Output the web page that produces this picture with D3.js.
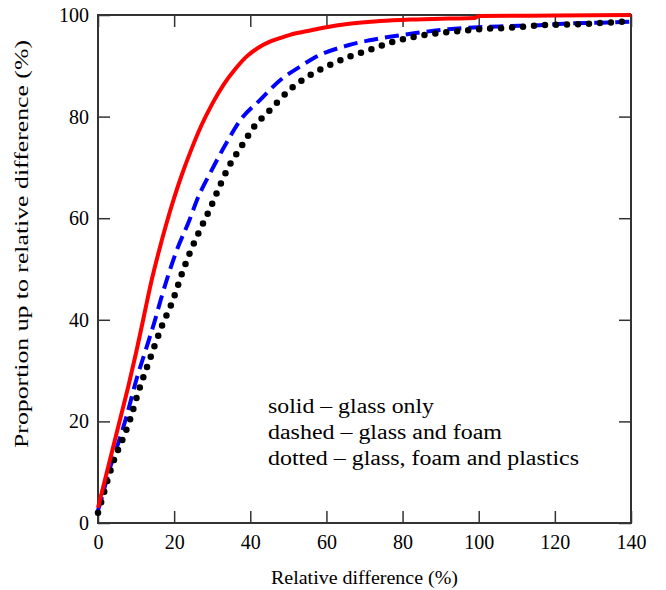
<!DOCTYPE html>
<html>
<head>
<meta charset="utf-8">
<script src="https://cdnjs.cloudflare.com/ajax/libs/d3/7.8.5/d3.min.js"></script>
<style>
  body { margin: 0; background: #fff; }
  text { font-family: "Liberation Serif", "Times New Roman", serif; fill: #000; }
</style>
</head>
<body>
<div id="chart"></div>
<script>
var xTicks = [0, 20, 40, 60, 80, 100, 120, 140];
var yTicks = [0, 20, 40, 60, 80, 100];

var glassX = [0, 2, 4, 6, 8, 10, 12, 14, 16, 18, 20, 22, 24.5, 27, 30, 33, 36, 39, 42, 45, 48, 52, 56, 60, 65, 74, 82, 92, 99, 100, 120, 140];
var glassY = [3, 9, 15, 21, 27, 33.5, 40.5, 47.5, 53.5, 59, 64, 68.5, 73.5, 78, 82.5, 86.3, 89.3, 91.8, 93.5, 94.7, 95.5, 96.4, 97, 97.6, 98.2, 98.8, 99.1, 99.3, 99.4, 99.8, 99.9, 100];

var foamX = [0, 1, 3, 5, 7.5, 10, 12.5, 15, 16.5, 20.7, 24, 26, 29.9, 33.5, 37.4, 42.6, 47.9, 53, 56.6, 65.5, 74.2, 83, 92, 100, 107.6, 116, 125, 134, 140];
var foamY = [2.5, 5, 10.5, 15, 21, 28, 34, 40, 44, 53.7, 59.6, 63.6, 69.5, 74.5, 79.3, 83.3, 87.2, 89.8, 91.5, 94, 95.4, 96.4, 97.2, 97.6, 97.8, 98, 98.4, 98.5, 98.7];

var plasticX = [0, 1, 2.7, 4.5, 6.2, 8.4, 10.6, 13.5, 16.8, 19.7, 22, 24.4, 26.8, 29.5, 31.5, 34.3, 37.4, 41, 44.8, 51, 56, 61, 66, 71.6, 77, 83, 90, 94.5, 100, 108.4, 117, 126, 138, 140];
var plasticY = [2, 4.5, 8.9, 13, 16, 20.3, 25.8, 32, 38.8, 43.9, 49, 53.7, 57.7, 62, 65.5, 70.1, 73.8, 78, 81, 85.7, 88.3, 90.2, 91.8, 93.2, 94.6, 95.7, 96.5, 96.8, 97.2, 97.5, 98, 98.2, 98.7, 98.8];

var legendLines = ["solid \u2013 glass only", "dashed \u2013 glass and foam", "dotted \u2013 glass, foam and plastics"];
var legendWidths = [166, 234, 311];

var svgWidth = 666;
var svgHeight = 590;
var margin = { top: 15, right: 35, bottom: 67, left: 98 };
var width = svgWidth - margin.left - margin.right;
var height = svgHeight - margin.top - margin.bottom;

var svg = d3.select("#chart").append("svg")
            .attr("width", svgWidth)
            .attr("height", svgHeight);

var chartGroup = svg.append("g")
                    .attr("transform", `translate(${margin.left}, ${margin.top})`);

var x = d3.scaleLinear().domain([0, 140]).range([0, width]);
var y = d3.scaleLinear().domain([0, 100]).range([height, 0]);

// axes, ticks pointing inward
function styleAxis(g) {
    g.select(".domain").remove();
    g.selectAll(".tick line").attr("stroke", "#333").attr("stroke-width", 1.5);
    g.selectAll(".tick text").style("font-size", "20px").attr("fill", "#000");
}

chartGroup.append("g")
          .attr("transform", `translate(0, ${height})`)
          .call(d3.axisBottom(x).tickValues(xTicks).tickSizeInner(-12).tickSizeOuter(0).tickPadding(12))
          .call(styleAxis);

chartGroup.append("g")
          .call(d3.axisLeft(y).tickValues(yTicks).tickSizeInner(-12).tickSizeOuter(0).tickPadding(9))
          .call(styleAxis);

chartGroup.append("g")
          .call(d3.axisTop(x).tickValues(xTicks).tickSizeInner(-12).tickSizeOuter(0).tickFormat(""))
          .call(styleAxis);

chartGroup.append("g")
          .attr("transform", `translate(${width}, 0)`)
          .call(d3.axisRight(y).tickValues(yTicks).tickSizeInner(-12).tickSizeOuter(0).tickFormat(""))
          .call(styleAxis);

chartGroup.append("rect")
          .attr("width", width)
          .attr("height", height)
          .attr("fill", "none")
          .attr("stroke", "#333")
          .attr("stroke-width", 2);

var line = d3.line()
             .x(d => x(d[0]))
             .y(d => y(d[1]))
             .curve(d3.curveMonotoneX);

var series = [
    { xs: foamX, ys: foamY, color: "#0000ff", width: 4, dash: "14 7", cap: "butt" },
    { xs: plasticX, ys: plasticY, color: "#000", width: 6.5, dash: "0 11", cap: "round" },
    { xs: glassX, ys: glassY, color: "#ff0000", width: 4, dash: null, cap: "butt" }
];

series.forEach(function(s) {
    chartGroup.append("path")
              .datum(d3.zip(s.xs, s.ys))
              .attr("d", line)
              .attr("fill", "none")
              .attr("stroke", s.color)
              .attr("stroke-width", s.width)
              .attr("stroke-dasharray", s.dash)
              .attr("stroke-linecap", s.cap);
});

chartGroup.selectAll(".legend")
          .data(legendLines)
          .enter()
          .append("text")
          .attr("class", "legend")
          .attr("x", 170)
          .attr("y", (d, i) => 398 + i * 26)
          .attr("textLength", (d, i) => legendWidths[i])
          .attr("lengthAdjust", "spacingAndGlyphs")
          .style("font-size", "20px")
          .text(d => d);

chartGroup.append("text")
          .attr("transform", "rotate(-90)")
          .attr("x", -229)
          .attr("y", -70)
          .attr("text-anchor", "middle")
          .attr("textLength", 408)
          .attr("lengthAdjust", "spacingAndGlyphs")
          .style("font-size", "18px")
          .text("Proportion up to relative difference (%)");

chartGroup.append("text")
          .attr("x", width / 2)
          .attr("y", height + 61)
          .attr("text-anchor", "middle")
          .attr("textLength", 187)
          .attr("lengthAdjust", "spacingAndGlyphs")
          .style("font-size", "18px")
          .text("Relative difference (%)");
</script>
</body>
</html>
